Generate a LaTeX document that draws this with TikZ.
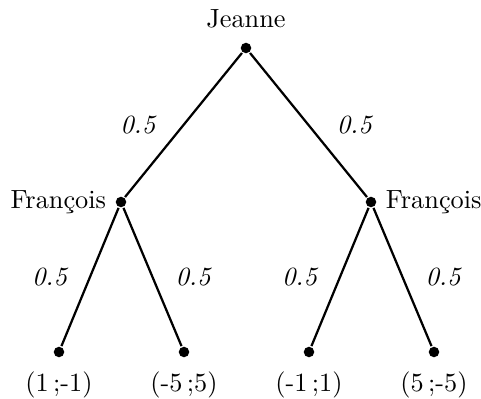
\documentclass[tikz,border=0pt]{standalone}
\usepackage{tikz}
\usetikzlibrary{positioning}

\begin{document}
\begin{tikzpicture}[
  x=0.01337cm, y=-0.01337cm,
  dot/.style={circle, fill, inner sep=0pt, minimum size=4pt},
  proba/.style={font=\itshape},
  line width=0.85pt]
\useasboundingbox (0,0) rectangle (481,399);
% racine
\node[dot, label={[label distance=1.5pt]above:Jeanne}] (J) at (246,48) {};
% second joueur
\node[dot, label={[label distance=-0.5pt]left:Fran\c{c}ois}] (F1) at (121,202) {};
\node[dot, label={[label distance=-0.5pt]right:Fran\c{c}ois}] (F2) at (371,202) {};
% issues
\node[dot, label={[label distance=1.5pt]below:(1\,;-1)}] (G1) at (59,352) {};
\node[dot, label={[label distance=1.5pt]below:(-5\,;5)}] (G2) at (184,352) {};
\node[dot, label={[label distance=1.5pt]below:(-1\,;1)}] (G3) at (309,352) {};
\node[dot, label={[label distance=1.5pt]below:(5\,;-5)}] (G4) at (434,352) {};
% branches
\draw (J) -- node[proba, left=7pt] {0.5} (F1);
\draw (J) -- node[proba, right=7pt] {0.5} (F2);
\draw (F1) -- node[proba, left=5pt] {0.5} (G1);
\draw (F1) -- node[proba, right=5pt] {0.5} (G2);
\draw (F2) -- node[proba, left=5pt] {0.5} (G3);
\draw (F2) -- node[proba, right=5pt] {0.5} (G4);
\end{tikzpicture}
\end{document}
